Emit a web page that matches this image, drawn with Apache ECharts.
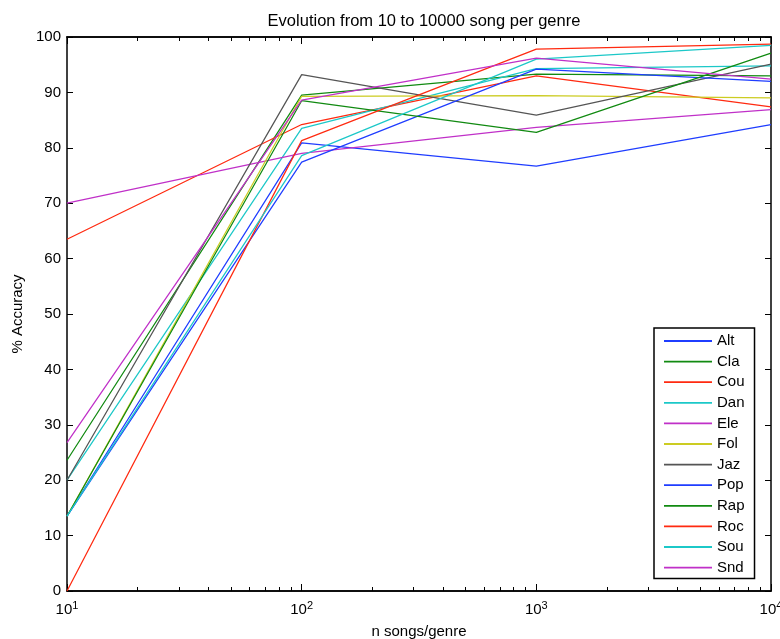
<!DOCTYPE html>
<html>
<head>
<meta charset="utf-8">
<title>Evolution from 10 to 10000 song per genre</title>
<script src="https://cdn.jsdelivr.net/npm/echarts@6/dist/echarts.min.js"></script>
<style>
  html, body { margin: 0; padding: 0; background: #fff; }
  #chart { width: 780px; height: 639px; }
</style>
</head>
<body>
<div id="chart"></div>
<script>
// Number of songs per genre used for training (log-scaled x axis)
const nSongs = [10, 100, 1000, 10000];

// Accuracy (%) per genre at each training size
const genres = ['Alt', 'Cla', 'Cou', 'Dan', 'Ele', 'Fol', 'Jaz', 'Pop', 'Rap', 'Roc', 'Sou', 'Snd'];
const alt = [13.5, 80.9, 76.7, 84.2];
const cla = [23.6, 89.5, 93.3, 93.0];
const cou = [63.5, 84.2, 93.0, 87.4];
const dan = [20.0, 83.5, 94.3, 94.8];
const ele = [70.0, 79.0, 83.7, 86.9];
const fol = [13.5, 89.3, 89.4, 89.0];
const jaz = [20.0, 93.2, 85.9, 95.1];
const pop = [13.5, 77.4, 94.2, 92.0];
const rap = [13.5, 88.5, 82.8, 97.1];
const roc = [0.0, 81.3, 97.8, 98.7];
const sou = [13.5, 78.6, 96.0, 98.5];
const snd = [26.8, 88.6, 96.2, 92.4];
const accuracy = [alt, cla, cou, dan, ele, fol, jaz, pop, rap, roc, sou, snd];

// Tick positions
const xMajorTicks = [10, 100, 1000, 10000];
const xMinorTicks = [20, 30, 40, 50, 60, 70, 80, 90,
                     200, 300, 400, 500, 600, 700, 800, 900,
                     2000, 3000, 4000, 5000, 6000, 7000, 8000, 9000];
const yTicks = [0, 10, 20, 30, 40, 50, 60, 70, 80, 90, 100];

// Classic colour cycle: b, g, r, c, m, y, k
const palette = ['#1f3dff', '#118a11', '#ff2a10', '#1cc8c8', '#c030c8', '#cccc22', '#555555'];

const FONT = 'Liberation Sans, Arial, Helvetica, sans-serif';
const FS = 15;

const chart = echarts.init(document.getElementById('chart'), null, { renderer: 'canvas' });

const axisLine = { show: true, lineStyle: { color: '#000', width: 1.5 } };

function xAxisDef(position, withLabels, ticks, tickLen) {
  return {
    type: 'log',
    logBase: 10,
    min: 10,
    max: 10000,
    position: position,
    gridIndex: 0,
    axisLine: axisLine,
    splitLine: { show: false },
    axisTick: {
      show: true, inside: true, length: tickLen,
      customValues: ticks,
      lineStyle: { color: '#000', width: 1 }
    },
    axisLabel: withLabels ? {
      show: true,
      margin: 9,
      customValues: xMajorTicks,
      color: '#000',
      fontFamily: FONT,
      formatter: function (v) {
        const e = Math.round(Math.log10(v));
        return '{b|10}{s|' + e + '}';
      },
      rich: {
        b: { fontSize: FS, fontFamily: FONT, color: '#000' },
        s: { fontSize: 11, fontFamily: FONT, color: '#000', padding: [0, 0, 9, 0] }
      }
    } : { show: false },
    name: withLabels ? 'n songs/genre' : '',
    nameLocation: 'middle',
    nameGap: 33,
    nameTextStyle: { fontSize: FS, fontFamily: FONT, color: '#000' }
  };
}

function yAxisDef(position, withLabels) {
  return {
    type: 'value',
    min: 0,
    max: 100,
    interval: 10,
    position: position,
    axisLine: axisLine,
    splitLine: { show: false },
    axisTick: { show: true, inside: true, length: 6, lineStyle: { color: '#000', width: 1 } },
    axisLabel: withLabels ? {
      show: true, margin: 6, color: '#000', fontSize: FS, fontFamily: FONT,
      customValues: yTicks
    } : { show: false },
    name: withLabels ? '% Accuracy' : '',
    nameLocation: 'middle',
    nameGap: 40,
    nameTextStyle: { fontSize: FS, fontFamily: FONT, color: '#000' }
  };
}

const series = genres.map(function (g, i) {
  return {
    name: g,
    type: 'line',
    xAxisIndex: 0,
    yAxisIndex: 0,
    symbol: 'none',
    color: palette[i % palette.length],
    lineStyle: { width: 1.25, color: palette[i % palette.length] },
    data: nSongs.map(function (n, k) { return [n, accuracy[i][k]]; }),
    z: 3
  };
});

chart.setOption({
  animation: false,
  backgroundColor: '#fff',
  title: {
    text: 'Evolution from 10 to 10000 song per genre',
    left: 419,
    textAlign: 'center',
    top: 8,
    textStyle: { fontSize: 16.5, fontWeight: 'normal', fontFamily: FONT, color: '#000' }
  },
  grid: { left: 67, right: 9, top: 37, bottom: 48, containLabel: false, outerBoundsMode: 'none' },
  xAxis: [
    xAxisDef('bottom', true, xMajorTicks, 7),
    xAxisDef('bottom', false, xMinorTicks, 4),
    xAxisDef('top', false, xMajorTicks, 7),
    xAxisDef('top', false, xMinorTicks, 4)
  ],
  yAxis: [
    yAxisDef('left', true),
    yAxisDef('right', false)
  ],
  legend: {
    orient: 'vertical',
    left: 654,
    top: 328,
    data: genres,
    icon: 'rect',
    itemWidth: 48,
    itemHeight: 1.8,
    itemGap: 4.6,
    padding: [5, 10, 3, 10],
    backgroundColor: '#fff',
    borderColor: '#000',
    borderWidth: 1.5,
    borderRadius: 0,
    textStyle: { fontSize: FS, lineHeight: 16, fontFamily: FONT, color: '#000' },
    z: 10
  },
  series: series
});
</script>
</body>
</html>
